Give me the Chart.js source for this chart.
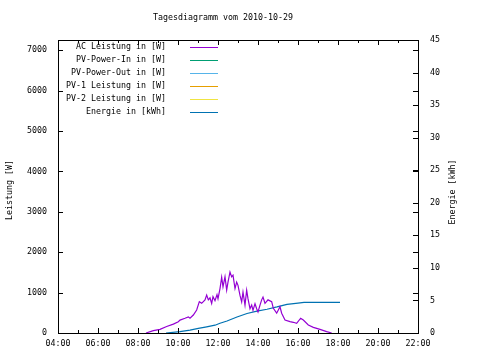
<!DOCTYPE html>
<html>
<head>
<meta charset="utf-8">
<script src="https://cdn.jsdelivr.net/npm/chart.js@4/dist/chart.umd.min.js"></script>
<style>
  body { margin: 0; background: #fff; }
  canvas { display: block; }
</style>
</head>
<body>
<canvas id="dayChart" width="480" height="360"></canvas>
<script>
// data
var chartTitle = 'Tagesdiagramm vom 2010-10-29';

var acTimes = ['08:24','08:46','09:06','09:26','09:46','10:01','10:06','10:21','10:31','10:36',
  '10:46','10:56','11:04','11:11','11:21','11:26','11:31','11:36','11:41','11:45',
  '11:51','11:57','12:00','12:06','12:11','12:15','12:21','12:26','12:30','12:36',
  '12:41','12:45','12:51','12:56','13:00','13:06','13:11','13:15','13:21','13:26',
  '13:30','13:36','13:41','13:45','13:51','13:56','14:00','14:06','14:11','14:15',
  '14:21','14:30','14:41','14:46','14:56','15:01','15:06','15:11','15:21','15:36',
  '15:46','15:56','16:08','16:16','16:31','16:46','17:06','17:26','17:41'];
var acPower = [0, 60, 90, 160, 220, 280, 320, 365, 400, 365,
  445, 570, 775, 735, 820, 940, 820, 870, 730, 900,
  800, 950, 850, 1100, 1380, 1140, 1390, 1060, 1260, 1510,
  1390, 1430, 1100, 1260, 1180, 930, 770, 1010, 690, 1060,
  850, 600, 690, 560, 725, 600, 520, 690, 820, 890,
  735, 820, 775, 610, 490, 570, 650, 490, 320, 280,
  265, 240, 365, 320, 200, 140, 90, 35, 0];

var energyTimes = ['09:24','10:06','10:36','11:01','11:26','11:51','12:06','12:27','12:57','13:27',
  '13:57','14:27','14:57','15:27','16:00','16:18','18:06'];
var energyKwh = [0, 0.2, 0.45, 0.7, 0.95, 1.2, 1.5, 1.85, 2.45, 3.0,
  3.35, 3.65, 4.0, 4.4, 4.6, 4.7, 4.7];

var seriesNames = ['AC Leistung in [W]', 'PV-Power-In in [W]', 'PV-Power-Out in [W]',
  'PV-1 Leistung in [W]', 'PV-2 Leistung in [W]', 'Energie in [kWh]'];
var seriesColors = ['#9400d3', '#009e73', '#56b4e9', '#e69f00', '#f0e442', '#0072b2'];

// tick labels
var hourTicks = [4, 6, 8, 10, 12, 14, 16, 18, 20, 22];
var powerTicks = [0, 1000, 2000, 3000, 4000, 5000, 6000, 7000];
var energyTicks = [0, 5, 10, 15, 20, 25, 30, 35, 40, 45];

function toHours(s) {
  var p = s.split(':');
  return +p[0] + (+p[1]) / 60;
}
function pad2(n) { return (n < 10 ? '0' : '') + n; }

function points(times, vals) {
  return times.map(function (t, i) { return { x: toHours(t), y: vals[i] }; });
}
function fixTicks(list) {
  return function (s) {
    s.ticks = list.map(function (v) { return { value: v }; });
  };
}

var FONT = '8.3px "DejaVu Sans Mono"';

// gnuplot-like frame, inward ticks, title, axis labels and key
var gnuplotLook = {
  id: 'gnuplotLook',
  afterDraw: function (chart) {
    var ctx = chart.ctx;
    var a = chart.chartArea;
    var sx = chart.scales.x, sy = chart.scales.y, sy2 = chart.scales.y2;
    ctx.save();
    ctx.strokeStyle = '#000';
    ctx.lineWidth = 1;
    ctx.strokeRect(Math.round(a.left) + 0.5, Math.round(a.top) + 0.5,
      Math.round(a.right - a.left), Math.round(a.bottom - a.top));

    ctx.beginPath();
    // x ticks every hour, longer every 2h, on bottom and top
    for (var h = 4; h <= 22; h++) {
      var px = Math.round(sx.getPixelForValue(h)) + 0.5;
      var len = h % 2 === 0 ? 5 : 3;
      ctx.moveTo(px, a.bottom); ctx.lineTo(px, a.bottom - len);
      ctx.moveTo(px, a.top); ctx.lineTo(px, a.top + len);
    }
    // left y ticks, mirrored on right border
    sy.ticks.forEach(function (t) {
      var py = Math.round(sy.getPixelForValue(t.value)) + 0.5;
      ctx.moveTo(a.left, py); ctx.lineTo(a.left + 5, py);
      ctx.moveTo(a.right, py); ctx.lineTo(a.right - 5, py);
    });
    // y2 ticks on right border
    sy2.ticks.forEach(function (t) {
      var py = Math.round(sy2.getPixelForValue(t.value)) + 0.5;
      ctx.moveTo(a.right, py); ctx.lineTo(a.right - 5, py);
    });
    ctx.stroke();

    ctx.fillStyle = '#000';
    ctx.font = FONT;
    ctx.textBaseline = 'middle';
    ctx.textAlign = 'center';
    ctx.fillText(chartTitle, 223, 18);

    ctx.save();
    ctx.translate(10, 190);
    ctx.rotate(-Math.PI / 2);
    ctx.fillText('Leistung [W]', 0, 0);
    ctx.restore();
    ctx.save();
    ctx.translate(453, 192);
    ctx.rotate(-Math.PI / 2);
    ctx.fillText('Energie [kWh]', 0, 0);
    ctx.restore();

    // key
    ctx.textAlign = 'right';
    chart.data.datasets.forEach(function (ds, i) {
      var ky = 47 + i * 13;
      ctx.fillStyle = '#000';
      ctx.fillText(ds.label, 166, ky);
      ctx.beginPath();
      ctx.strokeStyle = ds.borderColor;
      ctx.moveTo(190, ky + 0.5);
      ctx.lineTo(218, ky + 0.5);
      ctx.stroke();
    });
    ctx.restore();
  }
};

var datasets = seriesNames.map(function (name, i) {
  return {
    label: name,
    data: [],
    borderColor: seriesColors[i],
    backgroundColor: seriesColors[i],
    borderWidth: 1.2,
    pointRadius: 0,
    fill: false,
    yAxisID: 'y'
  };
});
datasets[0].data = points(acTimes, acPower);
datasets[5].data = points(energyTimes, energyKwh);
datasets[5].yAxisID = 'y2';

Chart.defaults.font.family = '"DejaVu Sans Mono"';
Chart.defaults.font.size = 8.3;
Chart.defaults.color = '#000';

var ctx = document.getElementById('dayChart').getContext('2d');
var dayChart = new Chart(ctx, {
  type: 'line',
  data: { datasets: datasets },
  options: {
    responsive: false,
    animation: false,
    layout: { padding: { top: 40, left: 0, right: 0, bottom: 0 } },
    plugins: {
      legend: { display: false },
      title: { display: false },
      tooltip: { enabled: false }
    },
    scales: {
      x: {
        type: 'linear',
        min: 4,
        max: 22,
        grid: { display: false, drawTicks: false },
        border: { display: false },
        ticks: {
          padding: 6,
          maxRotation: 0,
          autoSkip: false,
          callback: function (v) { return pad2(v) + ':00'; }
        },
        afterBuildTicks: fixTicks(hourTicks),
        afterFit: function (s) { s.height = 27; }
      },
      y: {
        position: 'left',
        min: 0,
        max: 7250,
        grid: { display: false, drawTicks: false },
        border: { display: false },
        ticks: { padding: 11, autoSkip: false, callback: function (v) { return String(v); } },
        afterBuildTicks: fixTicks(powerTicks),
        afterFit: function (s) { s.width = 58; }
      },
      y2: {
        position: 'right',
        min: 0,
        max: 45,
        grid: { display: false, drawTicks: false },
        border: { display: false },
        ticks: { padding: 12, autoSkip: false, callback: function (v) { return String(v); } },
        afterBuildTicks: fixTicks(energyTicks),
        afterFit: function (s) { s.width = 62; }
      }
    }
  },
  plugins: [gnuplotLook]
});
</script>
</body>
</html>
